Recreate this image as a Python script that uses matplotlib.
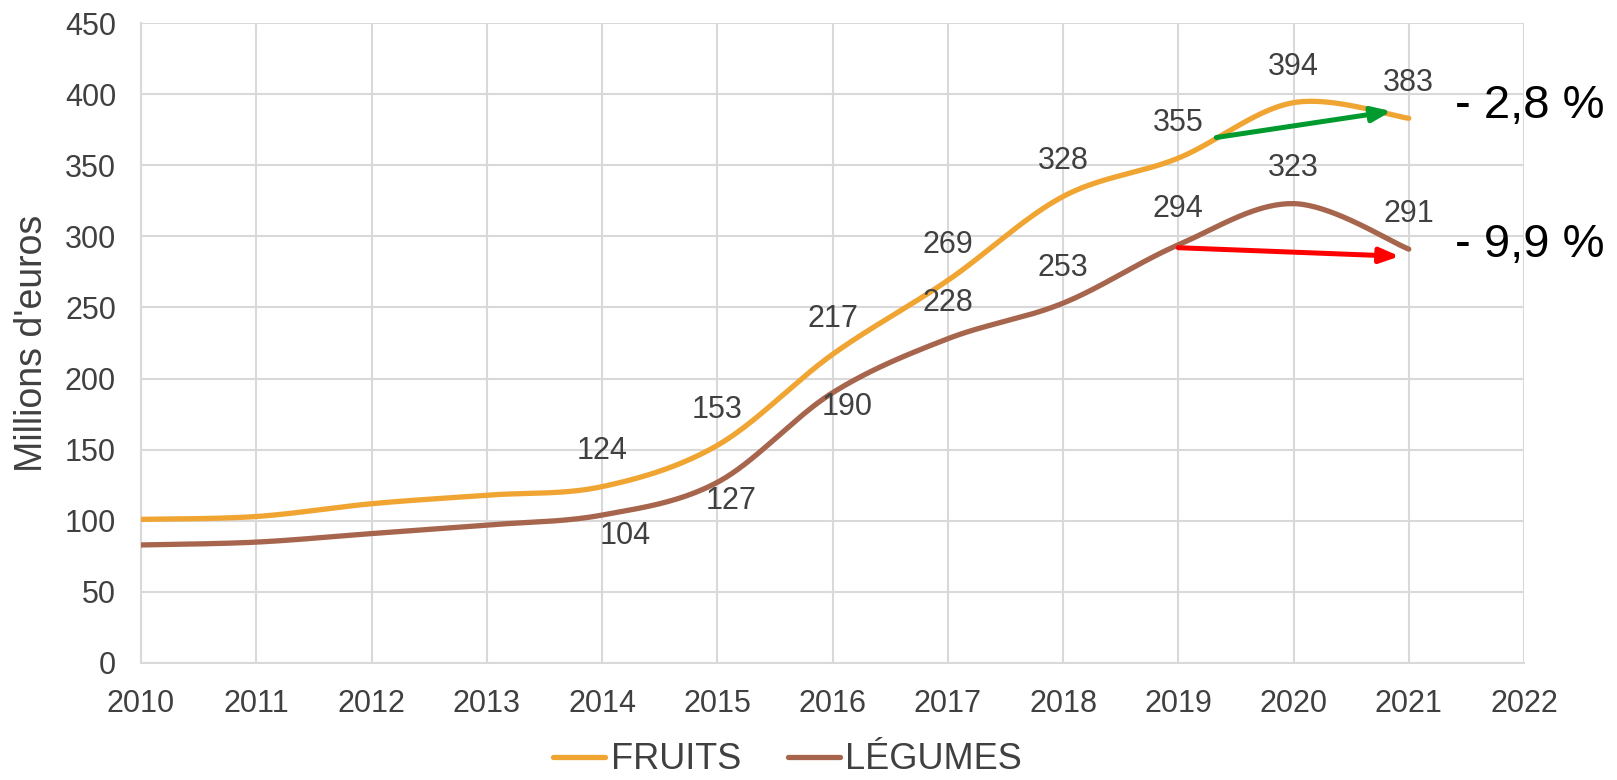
"""
Fruits et légumes : évolution en millions d'euros, 2010-2021
"""

import numpy as np
import matplotlib
matplotlib.use("Agg")
import matplotlib.pyplot as plt

YEARS = [2010, 2011, 2012, 2013, 2014, 2015, 2016, 2017, 2018, 2019, 2020, 2021]
FRUITS = [101, 103, 112, 118, 124, 153, 217, 269, 328, 355, 394, 383]
LEGUMES = [83, 85, 91, 97, 104, 127, 190, 228, 253, 294, 323, 291]
LABEL_FROM = 2014  # values labelled from this year on

SERIES_NAMES = ["FRUITS", "LÉGUMES"]
VARIATIONS = ["- 2,8 %", "- 9,9 %"]

FRUIT_COLOR = "#F0A532"
LEGUME_COLOR = "#A6654C"
TEXT_COLOR = "#404040"
GRID_COLOR = "#D9D9D9"

plt.rcParams["font.family"] = ["Liberation Sans", "DejaVu Sans"]


def smooth(x, y, n=40):
    """Excel-like smoothed line (Catmull-Rom through every point)."""
    x = np.asarray(x, float)
    y = np.asarray(y, float)
    px = np.concatenate([[x[0]], x, [x[-1]]])
    py = np.concatenate([[y[0]], y, [y[-1]]])
    xs, ys = [], []
    t = np.linspace(0, 1, n)
    for i in range(1, len(px) - 2):
        p0, p1, p2, p3 = (np.array([px[j], py[j]]) for j in (i - 1, i, i + 1, i + 2))
        c1 = p1 + (p2 - p0) / 6
        c2 = p2 - (p3 - p1) / 6
        pts = ((1 - t) ** 3)[:, None] * p1 + (3 * (1 - t) ** 2 * t)[:, None] * c1 \
            + (3 * (1 - t) * t ** 2)[:, None] * c2 + (t ** 3)[:, None] * p2
        xs.append(pts[:, 0])
        ys.append(pts[:, 1])
    return np.concatenate(xs), np.concatenate(ys)


fig = plt.figure(figsize=(16.17, 7.8), dpi=100)
ax = fig.add_axes([0.0872, 0.150, 0.8553, 0.8205])

for vals, color, name in [(FRUITS, FRUIT_COLOR, SERIES_NAMES[0]),
                          (LEGUMES, LEGUME_COLOR, SERIES_NAMES[1])]:
    sx, sy = smooth(YEARS, vals)
    ax.plot(sx, sy, color=color, lw=3.8, label=name, solid_capstyle="round", zorder=3)

# data labels
label_kw = dict(fontsize=22, color=TEXT_COLOR, ha="center", va="center", zorder=5)
for yr, v in zip(YEARS, FRUITS):
    if yr >= LABEL_FROM:
        ax.text(yr, v + 25, str(v), **label_kw)
leg_offsets = {2014: (0.2, -15), 2015: (0.12, -13), 2016: (0.13, -10)}
for yr, v in zip(YEARS, LEGUMES):
    if yr >= LABEL_FROM:
        dx, dy = leg_offsets.get(yr, (0, 25))
        ax.text(yr + dx, v + dy, str(v), **label_kw)

# variation arrows
arrow = "-|>,head_length=1.15,head_width=0.45"
ax.annotate("", xy=(2020.85, 388), xytext=(2019.33, 369.5),
            arrowprops=dict(arrowstyle=arrow, color="#009A2E", lw=3.6,
                            shrinkA=0, shrinkB=0), zorder=6)
ax.annotate("", xy=(2020.92, 286), xytext=(2019.0, 292),
            arrowprops=dict(arrowstyle=arrow, color="#FF0000", lw=3.6,
                            shrinkA=0, shrinkB=0), zorder=6)
ax.text(2021.4, 383, VARIATIONS[0], fontsize=34, color="black", ha="left", va="baseline")
ax.text(2021.4, 285.5, VARIATIONS[1], fontsize=34, color="black", ha="left", va="baseline")

ax.set_xlim(2010, 2022)
ax.set_ylim(0, 450)
ax.set_xticks(range(2010, 2023))
ax.set_yticks(range(0, 451, 50))
ax.grid(True, color=GRID_COLOR, lw=1.5, zorder=0)
ax.set_axisbelow(True)
for side in ["top", "right"]:
    ax.spines[side].set_visible(False)
for side in ["left", "bottom"]:
    ax.spines[side].set_color(GRID_COLOR)
    ax.spines[side].set_linewidth(1.5)
ax.tick_params(length=0, labelsize=22, labelcolor=TEXT_COLOR)
ax.tick_params(axis="y", pad=18)
ax.tick_params(axis="x", pad=19)
ax.set_ylabel("Millions d'euros", fontsize=27, color=TEXT_COLOR)
ax.yaxis.set_label_coords(-0.066, 0.5)

fig.legend(loc="center", bbox_to_anchor=(0.487, 0.026), ncol=2, frameon=False,
           fontsize=26, labelcolor=TEXT_COLOR, handlelength=1.45, handletextpad=0.15,
           columnspacing=1.3, borderpad=0.1)

fig.savefig("out.png", dpi=100)
